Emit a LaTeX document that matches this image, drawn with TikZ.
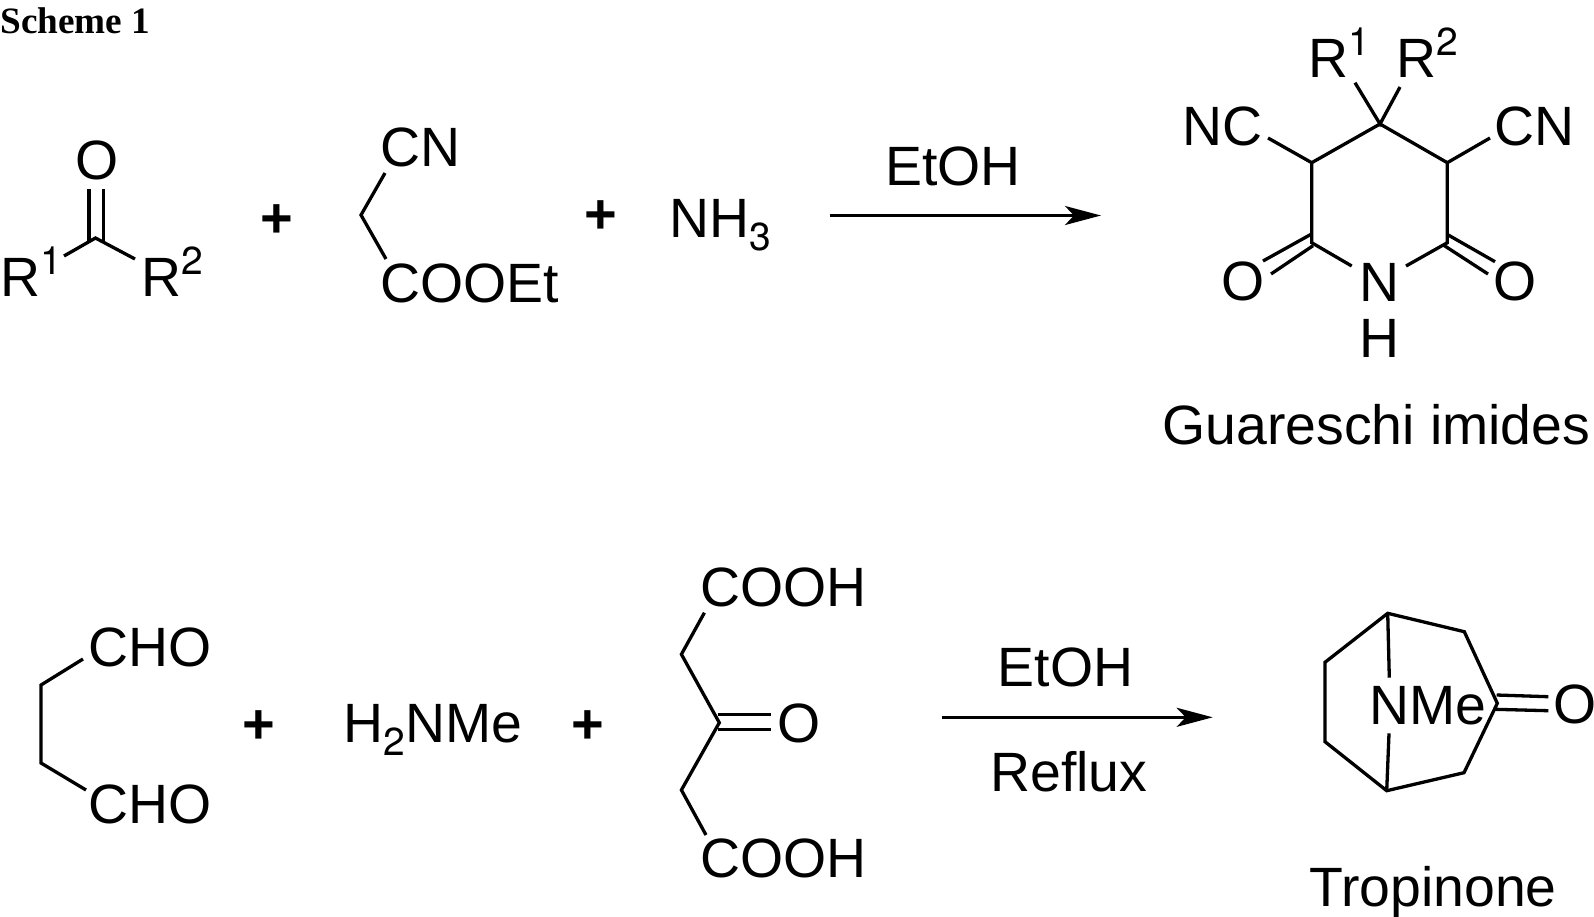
\documentclass[tikz,border=0pt]{standalone}
\usepackage{fontspec}
\setmainfont{Liberation Sans}
\newfontfamily\schemefont{Liberation Serif}
\newfontfamily\digitfont{TeX Gyre Heros}
\usetikzlibrary{arrows.meta}
\newcommand{\supnum}[1]{\raisebox{10.8pt}{\fontsize{19.5pt}{19.5pt}\digitfont #1}}
\newcommand{\subnum}[1]{\raisebox{-6.5pt}{\fontsize{19.5pt}{19.5pt}\digitfont #1}}

\begin{document}
\begin{tikzpicture}%
        [x=0.5pt,y=-0.5pt,
        atom/.style={anchor=base west,inner sep=0pt,font=\fontsize{27.7pt}{27.7pt}\selectfont},
        plus/.style={inner sep=0pt,font=\fontsize{28pt}{28pt}\selectfont\bfseries},
        caption/.style={anchor=base west,inner sep=0pt,font=\fontsize{18.6pt}{18.6pt}\selectfont\schemefont\bfseries},
        bond/.style={line width=1.65pt,line join=miter},
        rxn/.style={line width=1.6pt,-{Stealth[length=18pt,width=9.5pt,inset=4.5pt]}}]
    \useasboundingbox (0,0) rectangle (1594,916);
    %
    \node[caption] (title) at (0,33) {Scheme 1};
    %
    %% Drawing the ketone
    \node[atom] (ketO) at (75,179) {O};
    \node[atom] (ketRa) at (0.5,296) {R\supnum{1}};
    \node[atom] (ketRb) at (141,296) {R\supnum{2}};
    \coordinate (ketC) at (95.5,238);
    \coordinate (ketEa) at (64,256);
    \coordinate (ketEb) at (135,259);
    \coordinate (ketDa) at (89,189);
    \coordinate (ketDb) at (103.6,189);
    \coordinate (ketFa) at (89,241);
    \coordinate (ketFb) at (103.6,241);
    \draw[bond] (ketEa) -- (ketC) -- (ketEb);
    \draw[bond] (ketDa) -- (ketFa);
    \draw[bond] (ketDb) -- (ketFb);
    %
    \node[plus] (plusA) at (276.5,221) {+};
    %
    %% Drawing the cyanoacetate
    \node[atom] (cyaCN) at (380,166) {CN};
    \node[atom] (cyaEst) at (380,302) {COOEt};
    \coordinate (cyaC) at (361,215);
    \coordinate (cyaEa) at (385,173);
    \coordinate (cyaEb) at (386,259);
    \draw[bond] (cyaEa) -- (cyaC) -- (cyaEb);
    %
    \node[plus] (plusB) at (601,217) {+};
    \node[atom] (ammonia) at (669,237) {NH\subnum{3}};
    %
    %% Upper arrow
    \coordinate (arrAs) at (829.5,215.5);
    \coordinate (arrAe) at (1101,215.5);
    \draw[rxn] (arrAs) -- (arrAe);
    \node[atom] (etohA) at (885,185) {EtOH};
    %
    %% Drawing the imide
    \node[atom] (impRa) at (1308,77) {R\supnum{1}};
    \node[atom] (impRb) at (1396,77) {R\supnum{2}};
    \node[atom] (impNCa) at (1182,145) {NC};
    \node[atom] (impNCb) at (1494,145) {CN};
    \node[atom] (impOa) at (1221,300) {O};
    \node[atom] (impOb) at (1493,300) {O};
    \node[atom] (impN) at (1359,301) {N};
    \node[atom] (impH) at (1359,357) {H};
    \coordinate (impC) at (1380,124);
    \coordinate (impL) at (1311.7,162.7);
    \coordinate (impR) at (1447.3,162.7);
    \coordinate (impLb) at (1311.7,242.7);
    \coordinate (impRc) at (1447.3,242.7);
    \coordinate (impNa) at (1351.7,266);
    \coordinate (impNb) at (1406,266);
    \coordinate (impEa) at (1355,82.7);
    \coordinate (impEb) at (1400,87);
    \coordinate (impEc) at (1268,138);
    \coordinate (impEd) at (1490,138);
    \coordinate (impDa) at (1311,234.3);
    \coordinate (impDb) at (1263,261);
    \coordinate (impDc) at (1313,245.7);
    \coordinate (impDd) at (1271,274);
    \coordinate (impDe) at (1447,234.3);
    \coordinate (impDf) at (1495,261.7);
    \coordinate (impDg) at (1443.3,245);
    \coordinate (impDh) at (1488,274);
    \draw[bond] (impNa) -- (impLb) -- (impL) -- (impC) -- (impR) -- (impRc) -- (impNb);
    \draw[bond] (impEa) -- (impC) -- (impEb);
    \draw[bond] (impEc) -- (impL);
    \draw[bond] (impEd) -- (impR);
    \draw[bond] (impDa) -- (impDb);
    \draw[bond] (impDc) -- (impDd);
    \draw[bond] (impDe) -- (impDf);
    \draw[bond] (impDg) -- (impDh);
    \node[atom] (impName) at (1162,444) {Guareschi imides};
    %
    %% Drawing the dialdehyde
    \node[atom] (choA) at (88,666) {CHO};
    \node[atom] (choB) at (88,823) {CHO};
    \coordinate (choEa) at (83,659);
    \coordinate (choCa) at (41,685);
    \coordinate (choCb) at (41,763);
    \coordinate (choEb) at (86,790);
    \draw[bond] (choEa) -- (choCa) -- (choCb) -- (choEb);
    %
    \node[plus] (plusC) at (259,727) {+};
    \node[atom] (amine) at (343,742.7) {H\subnum{2}NMe};
    \node[plus] (plusD) at (588,727) {+};
    %
    %% Drawing the keto diacid
    \node[atom] (acdA) at (700,606) {COOH};
    \node[atom] (acdB) at (700,877.5) {COOH};
    \node[atom] (acdO) at (777,742) {O};
    \coordinate (acdEa) at (704.4,612.7);
    \coordinate (acdCa) at (681.4,654.3);
    \coordinate (acdC) at (719.3,722.7);
    \coordinate (acdCb) at (681.4,790);
    \coordinate (acdEb) at (706,835);
    \coordinate (acdDa) at (717.6,714.3);
    \coordinate (acdDb) at (771,714.3);
    \coordinate (acdDc) at (717.6,729.3);
    \coordinate (acdDd) at (771,729.3);
    \draw[bond] (acdEa) -- (acdCa) -- (acdC) -- (acdCb) -- (acdEb);
    \draw[bond] (acdDa) -- (acdDb);
    \draw[bond] (acdDc) -- (acdDd);
    %
    %% Lower arrow
    \coordinate (arrBs) at (941.7,717.3);
    \coordinate (arrBe) at (1212.7,717.3);
    \draw[rxn] (arrBs) -- (arrBe);
    \node[atom] (etohB) at (997.5,686) {EtOH};
    \node[atom] (reflux) at (990,791) {Reflux};
    %
    %% Drawing tropinone
    \node[atom] (troN) at (1369,724) {NMe};
    \node[atom] (troO) at (1553.5,723.5) {O};
    \coordinate (troT) at (1387.7,613.3);
    \coordinate (troA) at (1325,662.3);
    \coordinate (troB) at (1325,741.7);
    \coordinate (troU) at (1386.7,790.7);
    \coordinate (troC) at (1464,772.7);
    \coordinate (troK) at (1497.3,703.3);
    \coordinate (troD) at (1464.3,631.7);
    \coordinate (troEa) at (1389.3,677.7);
    \coordinate (troEb) at (1389,733.3);
    \coordinate (troDa) at (1496.7,695);
    \coordinate (troDb) at (1548.3,696.7);
    \coordinate (troDc) at (1495,709.3);
    \coordinate (troDd) at (1548.3,710.7);
    \draw[bond] (troT) -- (troA) -- (troB) -- (troU) -- (troC) -- (troK) -- (troD) -- cycle;
    \draw[bond] (troT) -- (troEa);
    \draw[bond] (troU) -- (troEb);
    \draw[bond] (troDa) -- (troDb);
    \draw[bond] (troDc) -- (troDd);
    \node[atom] (troName) at (1309,906) {Tropinone};
    %%
\end{tikzpicture}
\end{document}
